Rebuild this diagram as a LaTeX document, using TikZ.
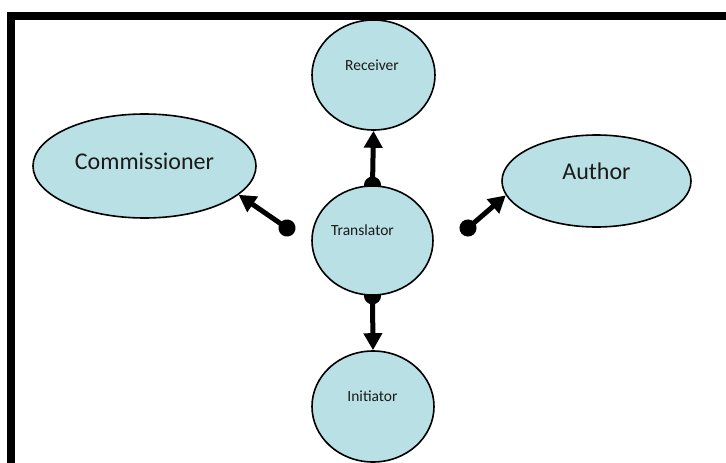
\documentclass[tikz,border=0pt]{standalone}
\usepackage{fontspec}
\setmainfont{Carlito}
\usetikzlibrary{shapes.geometric,arrows.meta,backgrounds}
\definecolor{ebfill}{HTML}{B9E0E4}
\definecolor{txt}{HTML}{1A1A1A}
\tikzset{
  x=1pt,y=-1pt,
  bubble/.style={ellipse,draw=black,line width=1.6pt,fill=ebfill,inner sep=0pt},
  small/.style={font=\fontsize{15.5}{18}\selectfont,text=txt,inner sep=0pt},
  big/.style={font=\fontsize{24}{28}\selectfont,text=txt,inner sep=0pt},
  conn/.style={line width=5pt,{Circle[length=17pt,width=17pt]}-{Triangle[length=17pt,width=18pt]},shorten <=-8.5pt},
  frame/.style={line width=7.5pt,miter limit=10}
}
\begin{document}
\begin{tikzpicture}
\useasboundingbox (0,0) rectangle (726,463);
% nodes
\node[bubble,minimum width=123pt,minimum height=110pt] (R) at (373.5,75) {};
\node[bubble,minimum width=121pt,minimum height=109pt] (T) at (372.5,240.5) {};
\node[bubble,minimum width=122pt,minimum height=111pt] (I) at (373,406.5) {};
\node[bubble,minimum width=223pt,minimum height=104pt] (C) at (144.5,166) {};
\node[bubble,minimum width=189pt,minimum height=92pt] (A) at (596.5,181) {};
% texts
\node[small] (Rt) at (372,65) {Receiver};
\node[small] (Tt) at (362.5,230) {Translator};
\node[small] (It) at (372.5,396) {Initiator};
\node[big] (Ct) at (144.5,161) {Commissioner};
\node[big] (At) at (596.5,171) {Author};
% free ends
\coordinate (dl) at (287,228);
\coordinate (dr) at (468,228);
\begin{pgfonlayer}{background}
\draw[conn] (T.north) -- (R.south);
\draw[conn] (T.south) -- (I.north);
\draw[conn] (dl) -- (C.-17);
\draw[conn] (dr) -- (A.189);
\end{pgfonlayer}
% frame
\draw[frame] (10.75,480) -- (10.75,15.75) -- (740,15.75);
\end{tikzpicture}
\end{document}
